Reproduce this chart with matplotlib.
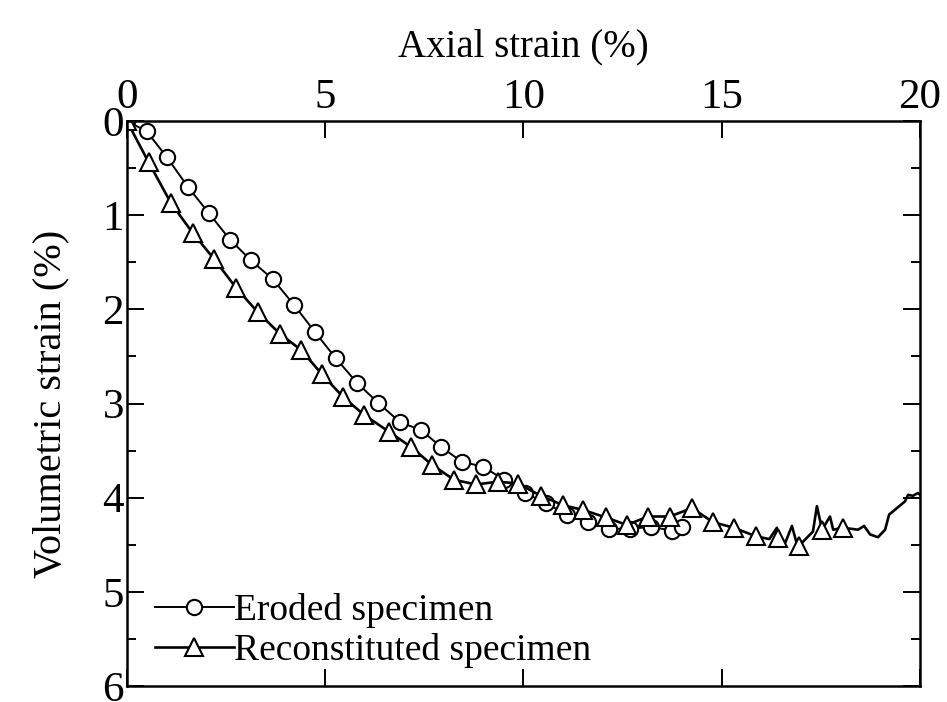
import matplotlib.pyplot as plt
from matplotlib.ticker import MultipleLocator

plt.rcParams['font.family'] = ['Liberation Serif', 'DejaVu Serif']
plt.rcParams['mathtext.fontset'] = 'stix'

# eroded specimen (axial strain %, volumetric strain %)
ero_x = [0, 0.50, 1.00, 1.54, 2.07, 2.60, 3.13, 3.68, 4.21, 4.74, 5.27, 5.80,
         6.33, 6.89, 7.41, 7.92, 8.45, 8.98, 9.51, 10.04, 10.57, 11.10, 11.63,
         12.16, 12.69, 13.22, 13.75, 14.0]
ero_y = [0, 0.11, 0.38, 0.70, 0.98, 1.26, 1.48, 1.68, 1.95, 2.24, 2.52, 2.78,
         2.99, 3.20, 3.28, 3.46, 3.62, 3.67, 3.81, 3.95, 4.06, 4.18, 4.26,
         4.33, 4.33, 4.31, 4.35, 4.31]

# reconstituted specimen, full trace
rec_x = [0, 0.55, 1.11, 1.66, 2.19, 2.75, 3.30, 3.86, 4.39, 4.92, 5.45, 5.98,
         6.61, 7.16, 7.69, 8.25, 8.80, 9.36, 9.86, 10.44, 11.00, 11.50, 12.08,
         12.61, 13.14, 13.69, 14.25, 14.78, 15.31, 15.86, 16.20, 16.39, 16.36,
         16.42, 16.60, 16.77, 16.90, 16.95, 17.30, 17.40, 17.53, 17.73, 17.81,
         18.06, 18.44, 18.59, 18.74, 18.94, 19.12, 19.22, 19.42, 19.62, 19.70,
         19.82, 19.95, 20.0]
rec_y = [0, 0.44, 0.87, 1.19, 1.46, 1.77, 2.03, 2.26, 2.43, 2.69, 2.93, 3.12,
         3.30, 3.46, 3.65, 3.81, 3.86, 3.83, 3.85, 3.98, 4.08, 4.13, 4.21,
         4.29, 4.20, 4.20, 4.11, 4.26, 4.32, 4.41, 4.44, 4.32, 4.45,
         4.43, 4.48, 4.30, 4.50, 4.51, 4.36, 4.09, 4.34, 4.20, 4.34,
         4.32, 4.34, 4.30, 4.39, 4.42, 4.34, 4.18, 4.11, 4.04, 3.97,
         3.98, 3.95, 3.97]
# which points of the trace carry a triangle
rec_marks = [0, 1, 2, 3, 4, 5, 6, 7, 8, 9, 10, 11, 12, 13, 14, 15, 16, 17, 18,
             19, 20, 21, 22, 23, 24, 25, 26, 27, 28, 29, 33, 37, 40, 43]

fig = plt.figure(figsize=(9.47, 7.02), dpi=100)
ax = fig.add_axes([0.134, 0.0228, 0.8375, 0.8048])

ax.plot(ero_x, ero_y, '-', color='black', lw=1.4, marker='o', ms=11,
        mfc='white', mec='black', mew=1.5, label='Eroded specimen')
ax.plot(rec_x, rec_y, '-', color='black', lw=1.9, marker='^', ms=13,
        mfc='white', mec='black', mew=1.5, markevery=rec_marks,
        label='Reconstituted specimen')

ax.set_xlim(0, 20)
ax.set_ylim(6, 0)
ax.xaxis.set_major_locator(MultipleLocator(5))
ax.yaxis.set_major_locator(MultipleLocator(1))
ax.yaxis.set_minor_locator(MultipleLocator(0.5))

ax.xaxis.tick_top()
ax.xaxis.set_label_position('top')
ax.tick_params(which='both', direction='in', top=True, bottom=True,
               left=True, right=True, width=1.4, labelsize=31)
ax.tick_params(which='major', length=12)
ax.tick_params(which='minor', length=6.5)
ax.tick_params(axis='x', pad=3)
ax.tick_params(axis='y', pad=2)
for s in ax.spines.values():
    s.set_linewidth(1.8)

ax.set_xlabel('Axial strain (%)', fontsize=28, labelpad=16)
ax.set_ylabel('Volumetric strain (%)', fontsize=29, labelpad=24)

leg = ax.legend(loc='lower left', bbox_to_anchor=(-0.012, -0.035),
                frameon=False, fontsize=27, handlelength=2.1,
                handletextpad=0.02, labelspacing=0.14, borderaxespad=0.6)
leg.set_in_layout(False)

fig.savefig('out.png', dpi=100)
